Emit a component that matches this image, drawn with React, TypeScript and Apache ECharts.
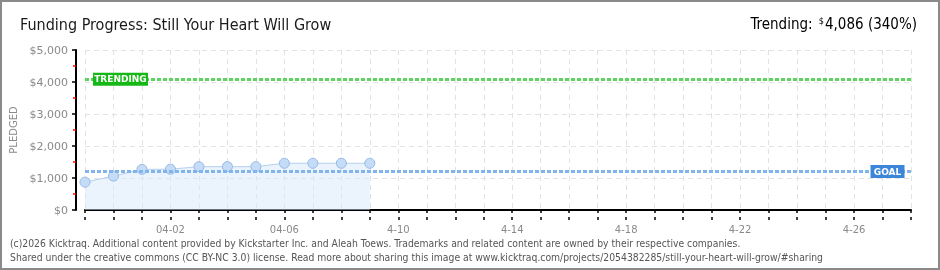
import React, { useEffect, useRef } from 'react';
import * as echarts from 'echarts';

const categories = [
  '03-30', '03-31', '04-01', '04-02', '04-03', '04-04', '04-05', '04-06', '04-07', '04-08',
  '04-09', '04-10', '04-11', '04-12', '04-13', '04-14', '04-15', '04-16', '04-17', '04-18',
  '04-19', '04-20', '04-21', '04-22', '04-23', '04-24', '04-25', '04-26', '04-27', '04-28',
];
const tickLabels: Record<string, string> = {
  '04-02': '04-02', '04-06': '04-06', '04-10': '4-10', '04-14': '4-14',
  '04-18': '4-18', '04-22': '4-22', '04-26': '4-26',
};
const pledged = [870, 1060, 1270, 1275, 1355, 1355, 1355, 1460, 1460, 1460, 1460];
const goal = 1200;
const trending = 4086;
const yMin = 0;
const yMax = 5000;
const yInterval = 1000;

const titleText = 'Funding Progress: Still Your Heart Will Grow';
const footer1 = '(c)2026 Kicktraq. Additional content provided by Kickstarter Inc. and Aleah Toews. Trademarks and related content are owned by their respective companies.';
const footer2 = 'Shared under the creative commons (CC BY-NC 3.0) license. Read more about sharing this image at www.kicktraq.com/projects/2054382285/still-your-heart-will-grow/#sharing';

const narrow = '"Liberation Sans Narrow", "DejaVu Sans Condensed", sans-serif';
const pix = '"DejaVu Sans", sans-serif';

export default function App() {
  const ref = useRef<HTMLDivElement>(null);
  useEffect(() => {
    if (!ref.current) return;
    const chart = echarts.init(ref.current, undefined, { renderer: 'svg' });
    const fmt = (v: number) => '$' + v.toLocaleString('en-US');
    chart.setOption({
      animation: false,
      grid: { left: 85, right: 29, top: 50, bottom: 60 },
      xAxis: [
        {
          type: 'category',
          data: categories,
          boundaryGap: false,
          offset: 10,
          axisLine: { show: true, lineStyle: { color: '#000', width: 2 } },
          axisTick: { show: true, interval: 0, length: 3, lineStyle: { color: '#000', width: 1.5 } },
          axisLabel: {
            interval: (_i: number, v: string) => v in tickLabels,
            formatter: (v: string) => tickLabels[v] || '',
            color: '#8a8a8a',
            fontSize: 10,
            fontFamily: pix,
            margin: 4,
          },
          splitLine: { show: true, interval: 0, lineStyle: { color: '#e2e2e2', type: [5, 4] } },
        },
        {
          type: 'category',
          data: categories,
          boundaryGap: false,
          offset: 10,
          position: 'bottom',
          axisLine: { show: false },
          axisTick: { show: true, inside: true, interval: 0, length: 3, lineStyle: { color: '#000', width: 1.5 } },
          axisLabel: { show: false },
          splitLine: { show: false },
        },
      ],
      yAxis: {
        type: 'value',
        min: yMin,
        max: yMax,
        interval: yInterval,
        offset: 9,
        name: 'PLEDGED',
        nameLocation: 'middle',
        nameGap: 48,
        nameTextStyle: { color: '#8a8a8a', fontSize: 10, fontFamily: pix },
        axisLine: { show: true, lineStyle: { color: '#000', width: 2 } },
        axisTick: { show: true, length: 4, lineStyle: { color: '#000', width: 1.5 } },
        minorTick: { show: true, splitNumber: 2, length: 3, lineStyle: { color: '#ff0000', width: 1.5 } },
        axisLabel: { formatter: fmt, color: '#8a8a8a', fontSize: 11, fontFamily: pix, margin: 8 },
        splitLine: { show: true, lineStyle: { color: '#e2e2e2', type: [5, 4] } },
      },
      series: [
        {
          type: 'line',
          data: pledged,
          symbol: 'circle',
          symbolSize: 10,
          lineStyle: { color: '#b5d0ef', width: 1 },
          itemStyle: { color: '#c5dcf6', borderColor: '#93b8e4', borderWidth: 1 },
          areaStyle: { color: '#d8e7fa', opacity: 0.5 },
          z: 3,
          markLine: {
            silent: true,
            symbol: 'none',
            label: { show: false },
            data: [
              { yAxis: goal, lineStyle: { color: '#82b4ec', width: 3, type: [4, 2] } },
              { yAxis: trending, lineStyle: { color: '#5fd35f', width: 3, type: [4, 2] } },
            ],
          },
          markPoint: {
            silent: true,
            data: [
              {
                coord: ['04-27', goal],
                symbol: 'rect',
                symbolSize: [34, 13],
                symbolOffset: [5, 0],
                itemStyle: { color: '#3b86d8' },
                label: { show: true, formatter: 'GOAL', color: '#fff', fontSize: 9, fontWeight: 'bold', fontFamily: pix },
              },
              {
                coord: ['03-31', trending],
                symbol: 'rect',
                symbolSize: [55, 13],
                symbolOffset: [7, 0],
                itemStyle: { color: '#16b816' },
                label: { show: true, formatter: 'TRENDING', color: '#fff', fontSize: 9, fontWeight: 'bold', fontFamily: pix },
              },
            ],
          },
        },
      ],
      graphic: [
        {
          type: 'rect',
          shape: { x: 1, y: 1, width: 938, height: 268 },
          style: { fill: 'none', stroke: '#8a8a8a', lineWidth: 2 },
          silent: true,
        },
        {
          type: 'text',
          x: 20,
          y: 24,
          style: { text: titleText, fill: '#1a1a1a', font: `16px ${narrow}`, textVerticalAlign: 'middle' },
        },
        {
          type: 'text',
          x: 917,
          y: 24,
          style: {
            text: '{a|Trending: }{s|$}{a|4,086 (340%)}',
            align: 'right',
            verticalAlign: 'middle',
            rich: {
              a: { fontSize: 15, fontFamily: narrow, color: '#1a1a1a' },
              s: { fontSize: 9, fontFamily: narrow, color: '#1a1a1a', verticalAlign: 'top', padding: [0, 1, 6, 2] },
            },
          },
        },
        {
          type: 'text',
          x: 10,
          y: 243,
          style: { text: footer1, fill: '#555', font: `10.3px ${narrow}`, textVerticalAlign: 'middle' },
        },
        {
          type: 'text',
          x: 10,
          y: 257,
          style: { text: footer2, fill: '#555', font: `10.3px ${narrow}`, textVerticalAlign: 'middle' },
        },
      ],
    });
    return () => chart.dispose();
  }, []);
  return <div ref={ref} style={{ position: 'fixed', left: 0, top: 0, width: 940, height: 270 }} />;
}
